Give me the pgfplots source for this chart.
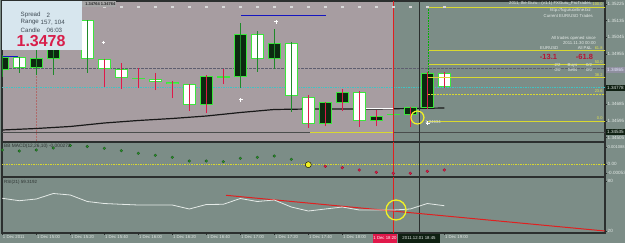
\documentclass[border=0pt]{standalone}
\usepackage{pgfplots}
\pgfplotsset{compat=1.18}
\usepackage{pgfplotstable}
\usepackage{fontspec}
\setmainfont{Liberation Sans}
\definecolor{bgg}{HTML}{7C8D87}
\definecolor{pinkbg}{HTML}{A79DA1}
\definecolor{framec}{HTML}{2B2F2E}
\definecolor{lbl}{HTML}{E4EAE7}
\definecolor{ttl}{HTML}{2E3432}
\definecolor{cbord}{HTML}{3CE63C}
\definecolor{cdark}{HTML}{0C2A10}
\definecolor{wred}{HTML}{E0184A}
\definecolor{wgreen}{HTML}{1F8A2A}
\definecolor{fibc}{HTML}{D8D830}
\definecolor{fibt}{HTML}{E6E64A}
\definecolor{crim}{HTML}{D81E4A}
\definecolor{pl}{HTML}{B81434}
\definecolor{infobg}{HTML}{D7E6EE}
\definecolor{infot}{HTML}{404C55}
\definecolor{bluel}{HTML}{1515C0}
\definecolor{cyanl}{HTML}{3FC4C4}
\definecolor{dashc}{HTML}{5E5E70}
\definecolor{darkl}{HTML}{4A4D4C}
\definecolor{dotc}{HTML}{B06A6A}
\definecolor{macdg}{HTML}{2C9A2C}
\definecolor{macdgd}{HTML}{1A5A1A}
\definecolor{macdr}{HTML}{E0204A}
\definecolor{macdrd}{HTML}{A01030}
\definecolor{ycirc}{HTML}{F2F224}
\definecolor{sqc}{HTML}{D8D8D8}
\definecolor{boxd}{HTML}{0F2012}
\definecolor{boxg}{HTML}{8F8F9F}
\definecolor{vred}{HTML}{E02020}
\newcommand\lblfont{\fontsize{4.6}{5}\selectfont}
\newcommand\smfont{\fontsize{4.3}{5}\selectfont}
\newcommand\infofont{\fontsize{6.2}{7}\selectfont}

\pgfplotstableread{
k bt bb hi lo f w
0 1.349394 1.348693 1.349502 1.348316 0 0
1 1.349394 1.348801 1.349394 1.348532 1 0
2 1.349340 1.348801 1.349933 1.348424 0 0
3 1.349825 1.349286 1.349933 1.348424 0 0
5 1.351388 1.349286 1.351388 1.348532 1 0
6 1.349286 1.348747 1.349286 1.347777 1 1
7 1.348747 1.348262 1.349070 1.347669 1 1
8 1.348289 1.348208 1.348801 1.347723 1 1
9 1.348208 1.348047 1.348532 1.347615 1 1
10 1.348047 1.347939 1.348100 1.347184 1 1
11 1.347939 1.346807 1.347939 1.346484 1 1
12 1.348370 1.346807 1.348424 1.346376 0 1
13 1.348370 1.348289 1.348747 1.347939 1 1
14 1.350633 1.348316 1.351226 1.347723 0 0
15 1.350633 1.349286 1.350795 1.348586 1 0
16 1.350148 1.349286 1.350903 1.348747 0 0
17 1.350148 1.347292 1.350202 1.346430 1 0
18 1.347238 1.345783 1.347346 1.345568 1 1
19 1.346969 1.345783 1.346969 1.345675 0 1
20 1.347508 1.346915 1.347669 1.346484 0 1
21 1.347508 1.345945 1.347562 1.345622 1 1
22 1.346214 1.345945 1.346538 1.345675 0 1
23 1.346349 1.346268 1.346430 1.346160 1 0
24 1.346699 1.346268 1.346699 1.345622 0 1
25 1.348532 1.346645 1.348586 1.346592 0 1
26 1.348532 1.347777 1.348586 1.347723 1 1
}\candles

\pgfplotsset{
  panel/.style={scale only axis, anchor=south west, width=603bp,
    xmin=-0.01765, xmax=35.453, clip=true, scaled ticks=false,
    axis line style={draw=framec, line width=1.4bp},
    ytick pos=right, yticklabel pos=right, tick align=outside,
    major tick length=2bp, tick style={draw=framec, line width=0.5bp},
    yticklabel style={font=\lblfont, text=lbl, anchor=west, inner sep=0.5bp},
    xtick=\empty},
  cbar/.style 2 args={draw=none, no markers,
    error bars/y dir=plus, error bars/y explicit, error bars/error mark=none,
    error bars/error bar style={draw=#1, line width=#2, solid, line cap=butt}}
}

\begin{document}
\begin{tikzpicture}[x=1bp,y=1bp]
\useasboundingbox (0,0) rectangle (625,243);
\fill[bgg] (0,0) rectangle (625,243);
\fill[pinkbg] (2,101) rectangle (394,242);

% ---------------- main price panel ----------------
\begin{axis}[panel, at={(2bp,101bp)}, height=141bp,
  ymin=1.3448132, ymax=1.3524117,
  ytick={1.34505,1.34595,1.34685,1.34955,1.35045,1.35135,1.35225},
  yticklabels={1.34505,1.34595,1.34685,1.34955,1.35045,1.35135,1.35225}]
\addplot[draw=dotc, densely dotted, line width=0.5bp] coordinates {(2,1.3448132) (2,1.3524117)};
\addplot[draw=dashc, dash pattern=on 2.5bp off 1.5bp, line width=0.6bp] coordinates {(-1,1.348774) (36,1.348774)};
\addplot[draw=cyanl, densely dotted, line width=0.7bp] coordinates {(-1,1.347777) (36,1.347777)};
\addplot[draw=darkl, line width=1bp] coordinates {(-1,1.345352) (36,1.345352)};
\addplot[draw=fibc, line width=1bp] coordinates {(18.1,1.345352) (23.04,1.345352)};
% blue lines
\addplot[draw=bluel, line width=1bp] coordinates {(14.04,1.351657) (19.04,1.351657)};
\addplot[draw=bluel, line width=1bp] coordinates {(-0.02,1.349394) (0.94,1.349394)};
% moving average
\addplot[draw=black!90, line width=1.2bp] coordinates {(0,1.345460) (2,1.345541) (4,1.345649) (6,1.345837) (8,1.345972) (10,1.346080) (12,1.346214) (14,1.346403) (16,1.346565) (18,1.346592) (20,1.346592) (22,1.346592) (24,1.346619) (26,1.346645)};
\addplot[draw=white, line width=1bp] coordinates {(21.04,1.346592) (23.04,1.346592)};
% candles
\addplot[cbar={cbord}{13bp}] table[x=k, y=bb, y error plus expr=\thisrow{bt}-\thisrow{bb}] {\candles};
\addplot[restrict expr to domain={\thisrow{f}}{0.5:1.5}, cbar={white}{11bp}] table[x=k, y expr=\thisrow{bb}+0.0000539, y error plus expr={max(\thisrow{bt}-\thisrow{bb}-0.0001078,0)}] {\candles};
\addplot[restrict expr to domain={\thisrow{f}}{-0.5:0.5}, cbar={cdark}{11bp}] table[x=k, y expr=\thisrow{bb}+0.0000539, y error plus expr={max(\thisrow{bt}-\thisrow{bb}-0.0001078,0)}] {\candles};
\addplot[restrict expr to domain={\thisrow{w}}{0.5:1.5}, cbar={wred}{1.5bp}] table[x=k, y=lo, y error plus expr=\thisrow{hi}-\thisrow{lo}] {\candles};
\addplot[restrict expr to domain={\thisrow{w}}{-0.5:0.5}, cbar={wgreen}{1.5bp}] table[x=k, y=lo, y error plus expr=\thisrow{hi}-\thisrow{lo}] {\candles};
% fibonacci
\addplot[draw=fibc, line width=0.8bp] coordinates {(25.04,1.352088) (36,1.352088)};
\addplot[draw=fibc, line width=0.8bp] coordinates {(25.04,1.349739) (36,1.349739)};
\addplot[draw=fibc, line width=0.8bp] coordinates {(25.04,1.349017) (36,1.349017)};
\addplot[draw=fibc, line width=0.8bp] coordinates {(25.04,1.348289) (36,1.348289)};
\addplot[draw=fibc, line width=0.8bp, dash pattern=on 2bp off 1bp] coordinates {(25.04,1.347389) (36,1.347389)};
\addplot[draw=fibc, line width=0.8bp] coordinates {(25.04,1.345945) (36,1.345945)};
\addplot[draw=green!70!black, densely dotted, line width=0.6bp] coordinates {(25.04,1.352088) (25.04,1.348532)};
% vertical lines
\addplot[draw=vred, line width=1bp] coordinates {(23.04,1.3448132) (23.04,1.3524117)};
\addplot[draw=framec, line width=0.8bp] coordinates {(24.55,1.3448132) (24.55,1.3524117)};
% markers
\addplot[only marks, mark=square*, mark size=0.75bp, mark options={draw=sqc, fill=sqc}] coordinates {(6,1.352105) (7,1.352105) (8,1.352105) (9,1.352105) (10,1.352105) (11,1.352105) (12,1.352105) (13,1.352105) (14,1.352105) (15,1.352105) (16,1.352105) (17,1.352105) (18,1.352105) (19,1.352105) (20,1.352105) (21,1.352105) (22,1.352105) (23,1.352105) (24,1.352105) (25,1.352105) (26,1.352105)};
\addplot[only marks, mark=+, mark size=1.8bp, mark options={draw=white, line width=1bp}] coordinates {(5.95,1.350175) (14.04,1.347077) (16.1,1.35128) (25.04,1.345837)};
\addplot[only marks, mark=o, mark size=6.5bp, mark options={draw=ycirc, line width=1.2bp}] coordinates {(24.42,1.346134)};
\end{axis}

% ---------------- MACD panel ----------------
\begin{axis}[panel, at={(2bp,66bp)}, height=35bp,
  ymin=-0.0007874, ymax=0.0013826,
  ytick={-0.00053,0,0.001088}, yticklabels={-0.00053,0.00,{\fontsize{4.1}{5}\selectfont 0.001088}}]
\addplot[draw=fibc, densely dotted, line width=0.7bp] coordinates {(-1,0) (36,0)};
\addplot[draw=vred, line width=1bp] coordinates {(23.04,-0.0007874) (23.04,0.0013826)};
\addplot[draw=framec, line width=0.8bp] coordinates {(24.55,-0.0007874) (24.55,0.0013826)};
\addplot[only marks, mark=*, mark size=1.3bp, mark options={fill=macdg, draw=macdgd, line width=0.4bp}] coordinates {(0,0.000887) (1,0.000825) (2,0.000887) (3,0.001011) (4,0.001166) (5,0.001104) (6,0.000992) (7,0.000843) (8,0.000682) (9,0.000558) (10,0.000434) (11,0.000205) (12,0.000205) (13,0.000161) (14,0.000372) (15,0.000434) (16,0.000515) (17,0.000310)};
\addplot[only marks, mark=*, mark size=3bp, mark options={fill=ycirc, draw=none}] coordinates {(18,-0.000025)};
\addplot[only marks, mark=*, mark size=1.4bp, mark options={fill=macdr, draw=macdrd, line width=0.4bp}] coordinates {(19,-0.000124) (20,-0.000211) (21,-0.000353) (22,-0.000496) (23,-0.000558) (24,-0.000558) (25,-0.000434) (26,-0.000353)};
\end{axis}

% ---------------- RSI panel ----------------
\begin{axis}[panel, at={(2bp,10bp)}, height=56bp,
  ymin=17.6, ymax=84.8,
  ytick={20,80}, yticklabels={20,80},
  xtick={0,2,4,6,8,10,12,14,16,18,20,26},
  xticklabels={1 Dec 2011,1 Dec 15:00,1 Dec 15:20,1 Dec 15:40,1 Dec 16:00,1 Dec 16:20,1 Dec 16:40,1 Dec 17:00,1 Dec 17:20,1 Dec 17:40,1 Dec 18:00,1 Dec 19:00},
  xtick pos=bottom,
  xticklabel style={font=\smfont, text=lbl, anchor=north west, inner sep=0.5bp}]
\addplot[draw=vred, line width=1bp] coordinates {(23.04,17.6) (23.04,84.8)};
\addplot[draw=framec, line width=0.8bp] coordinates {(24.55,17.6) (24.55,84.8)};
\addplot[draw=vred, line width=1bp] coordinates {(13.16,62.84) (35.45,20)};
\addplot[draw=lbl, line width=0.8bp] coordinates {(0,59.24) (1,56.36) (2,58.4) (3,65.0) (4,63.2) (5,55.4) (6,53.0) (7,52.04) (8,51.2) (9,51.2) (10,51.2) (11,46.4) (12,51.8) (13,52.04) (14,59.0) (15,55.4) (16,57.2) (17,48.8) (18,44.0) (19,46.4) (20,48.8) (21,45.2) (22,45.2) (23,45.2) (24,46.4) (25,53.0) (26,50.36)};
\addplot[only marks, mark=o, mark size=10bp, mark options={draw=ycirc, line width=1.3bp}] coordinates {(23.16,45.2)};
\end{axis}

% ---------------- overlays ----------------
% top label box
\fill[gray!70] (82,236) rectangle (116,242);
\node[anchor=east, inner sep=0, font=\fontsize{4}{4.5}\selectfont\bfseries, text=black!85] at (115.5,239) {1.34764 1.34764};
% info box
\fill[infobg] (2,193) rectangle (82,242);
\begin{scope}[every node/.style={anchor=west, inner sep=0, font=\infofont, text=infot}]
\node at (20.5,228) {Spread}; \node at (46.5,228) {2};
\node at (20.5,220.5) {Range}; \node at (40.5,220.5) {157, 104};
\node at (20.5,213) {Candle}; \node at (46.5,213) {06:03};
\end{scope}
\node[anchor=west, inner sep=0, font=\fontsize{16}{17}\selectfont\bfseries, text=crim] at (16.5,202.3) {1.3478};
% top right info
\begin{scope}[every node/.style={inner sep=0, font=\smfont, text=lbl}]
\node[anchor=east] at (591,239.5) {2011, the Guru : (v1.1) FXGuru\_ProTrades};
\node[anchor=east] at (591,233) {http://fxguruonline.biz};
\node[anchor=east] at (593,227) {Current EUR/USD Trades};
\node[anchor=east] at (596,204.5) {All trades opened since};
\node[anchor=east] at (596,199.5) {2011.11.30 00:00};
\node[anchor=west] at (540,195) {EURUSD};
\node[anchor=east] at (592,195) {All P\&L};
\node at (557.5,178) {2/2}; \node at (572.5,178) {Buys}; \node at (589,178) {0/2};
\node at (557.5,173) {0/0}; \node at (572.5,173) {Sells}; \node at (589,173) {0/0};
\node[anchor=west] at (425,121) {1.34634};
\end{scope}
\node[anchor=west, inner sep=0, text=ttl, font=\fontsize{4.8}{5}\selectfont] at (4,97) {BB MACD(12,26,10) -0.000272};
\node[anchor=west, inner sep=0, text=ttl, font=\fontsize{4.5}{5}\selectfont] at (4,60.5) {RSI(21) 59.3192};
\node[inner sep=0, font=\fontsize{7.5}{9}\selectfont\bfseries, text=pl] at (548.5,186.5) {-13.1};
\node[inner sep=0, font=\fontsize{7.5}{9}\selectfont\bfseries, text=pl] at (584.5,186.5) {-61.8};
% fib labels
\begin{scope}[every node/.style={anchor=south east, inner sep=0.3bp, font=\fontsize{4}{4.5}\selectfont, text=fibt}]
\node at (603,236.8) {100.0};
\node at (603,192.8) {61.8};
\node at (603,179.3) {50.0};
\node at (603,166) {38.2};
\node at (603,149.5) {23.6};
\node at (603,122.5) {0.0};
\end{scope}
% right axis boxes
\fill[boxg] (605.8,170.5) rectangle (625,176.5);
\node[anchor=west, inner sep=0, font=\lblfont, text=white!90!blue] at (607,173.5) {1.34865};
\fill[boxd] (605.8,152.5) rectangle (625,158.5);
\node[anchor=west, inner sep=0, font=\lblfont, text=lbl] at (607,155.5) {1.34778};
\fill[boxd] (605.8,108) rectangle (625,114);
\node[anchor=west, inner sep=0, font=\lblfont, text=lbl] at (607,111) {1.34535};
% bottom time boxes
\fill[wred] (373,0.5) rectangle (397,9);
\node[inner sep=0, font=\smfont, text=white] at (385,4.6) {1 Dec 18:20};
\fill[boxd] (398,0.5) rectangle (440,9);
\node[inner sep=0, font=\smfont, text=lbl] at (419,4.6) {2011.12.01 18:45};
\end{tikzpicture}
\end{document}
